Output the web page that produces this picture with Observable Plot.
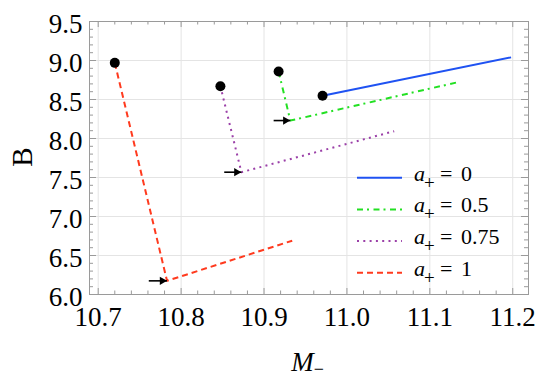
<!DOCTYPE html>
<html><head><meta charset="utf-8">
<script src="https://cdn.jsdelivr.net/npm/d3@7"></script>
<script src="https://cdn.jsdelivr.net/npm/@observablehq/plot@0.6"></script>
<style>html,body{margin:0;padding:0;background:#fff}</style>
</head><body><div id="chart"></div>
<script>
// ---- data ----
const legendValues = ["0", "0.5", "0.75", "1"];
const xBlue   = [10.9706, 11.198];
const yBlue   = [8.547, 9.04];
const xGreen  = [10.9176, 10.9317, 11.133];
const yGreen  = [8.86, 8.23, 8.72];
const xPurple = [10.8474, 10.8727, 11.057];
const yPurple = [8.67, 7.568, 8.094];
const xRed    = [10.72, 10.783, 10.934];
const yRed    = [8.97, 6.175, 6.69];
// arrow tails (x) pointing at the corner of green, purple, red curves
const arrowTailX = [10.9116, 10.852, 10.761];
const xTicks = [10.7, 10.8, 10.9, 11.0, 11.1, 11.2];
const yTicks = [6.0, 6.5, 7.0, 7.5, 8.0, 8.5, 9.0, 9.5];
const xMinor = [10.72,10.74,10.76,10.78,10.82,10.84,10.86,10.88,10.92,10.94,10.96,10.98,11.02,11.04,11.06,11.08,11.12,11.14,11.16,11.18];
const yMinor = [6.1,6.2,6.3,6.4,6.6,6.7,6.8,6.9,7.1,7.2,7.3,7.4,7.6,7.7,7.8,7.9,8.1,8.2,8.3,8.4,8.6,8.7,8.8,8.9,9.1,9.2,9.3,9.4];

const FONT = "Liberation Serif, Times New Roman, Tinos, Times, DejaVu Serif, Noto Serif, FreeSerif, serif";

// ---- styles ----
const styles = [
  {color: "#1f52f2", dash: null},
  {color: "#22e022", dash: "6,4,2,4.5"},
  {color: "#9b40a8", dash: "2,4.3"},
  {color: "#ff3a1e", dash: "6,4"}
];
const xs = [xBlue, xGreen, xPurple, xRed];
const ys = [yBlue, yGreen, yPurple, yRed];
const series = xs.map((xv, i) => xv.map((x, j) => ({x, y: ys[i][j], s: i})));
const starts = series.map(s => s[0]);
const arrows = [1, 2, 3].map((k, i) => ({x1: arrowTailX[i], x2: series[k][1].x, y: series[k][1].y}));

const W = 545, H = 380, mL = 89, mR = 17, mT = 21, mB = 86;
const ph = H - mT - mB, pw = W - mL - mR;
const tickCol = "#9a9a9a";

const fig = Plot.plot({
  width: W, height: H,
  marginLeft: mL, marginRight: mR, marginTop: mT, marginBottom: mB,
  style: {background: "#fff", color: "#000"},
  x: {domain: [10.6895, 11.219]},
  y: {domain: [6.0, 9.5]},
  marks: [
    Plot.ruleX(xTicks, {x: d => d, stroke: "#e4e4e4", strokeWidth: 1}),
    Plot.ruleY(yTicks, {y: d => d, stroke: "#e4e4e4", strokeWidth: 1}),
    // frame ticks on all four sides
    Plot.ruleX(xTicks, {x: d => d, insetTop: ph - 6, stroke: tickCol}),
    Plot.ruleX(xTicks, {x: d => d, insetBottom: ph - 6, stroke: tickCol}),
    Plot.ruleX(xMinor, {x: d => d, insetTop: ph - 3.5, stroke: tickCol}),
    Plot.ruleX(xMinor, {x: d => d, insetBottom: ph - 3.5, stroke: tickCol}),
    Plot.ruleY(yTicks, {y: d => d, insetRight: pw - 7, stroke: tickCol}),
    Plot.ruleY(yTicks, {y: d => d, insetLeft: pw - 7, stroke: tickCol}),
    Plot.ruleY(yMinor, {y: d => d, insetRight: pw - 4, stroke: tickCol}),
    Plot.ruleY(yMinor, {y: d => d, insetLeft: pw - 4, stroke: tickCol}),
    Plot.frame({stroke: tickCol, strokeWidth: 1}),
    ...series.map((s, i) => Plot.line(s, {x: "x", y: "y", stroke: styles[i].color, strokeWidth: 2,
      strokeDasharray: styles[i].dash, strokeLinecap: "butt"})),
    Plot.link(arrows, {x1: "x1", x2: "x2", y1: "y", y2: "y", stroke: "#000", strokeWidth: 1.6}),
    Plot.dot(arrows, {x: "x2", y: "y", symbol: "triangle", rotate: 90, r: 3.1, fill: "#000", stroke: null, dx: -4.8}),
    Plot.dot(starts, {x: "x", y: "y", r: 5, fill: "#000", stroke: null}),
    Plot.axisX({ticks: xTicks, tickSize: 0, tickPadding: 12, tickFormat: d3.format(".1f"), fontSize: 27, label: null, fontFamily: FONT}),
    Plot.axisY({ticks: yTicks, tickSize: 0, tickPadding: 7, tickFormat: d3.format(".1f"), fontSize: 27, label: null, dy: 2.5, fontFamily: FONT})
  ]
});
fig.setAttribute("font-family", FONT);
document.getElementById("chart").appendChild(fig);

const svg = d3.select(fig);
svg.selectAll("text").attr("font-family", FONT);
// axis titles
const mx = svg.append("text").attr("x", 307.5).attr("y", 371).attr("text-anchor", "middle")
  .attr("font-family", FONT).attr("font-size", 27);
mx.append("tspan").attr("font-style", "italic").text("M");
mx.append("tspan").attr("font-size", 18).attr("dy", 4).text("\u2212");
svg.append("text").attr("transform", "translate(31.5,157) rotate(-90)").attr("text-anchor", "middle")
  .attr("font-family", FONT).attr("font-size", 29).text("B");

// legend
const lg = svg.append("g");
styles.forEach((s, i) => {
  const y = 177.7 + i * 31.7;
  const ln = lg.append("line").attr("x1", 357).attr("x2", 402).attr("y1", y).attr("y2", y)
    .attr("stroke", s.color).attr("stroke-width", 2);
  if (s.dash) ln.attr("stroke-dasharray", s.dash);
  const t = lg.append("text").attr("y", y + 3).attr("font-family", FONT).attr("font-size", 22).attr("text-anchor", "start");
  t.append("tspan").attr("x", 414).attr("font-style", "italic").text("a");
  t.append("tspan").attr("x", 424).attr("dy", 8).attr("font-size", 19).text("+");
  t.append("tspan").attr("x", 440).attr("dy", -8).text("=");
  t.append("tspan").attr("x", 461).text(legendValues[i]);
});
</script></body></html>
